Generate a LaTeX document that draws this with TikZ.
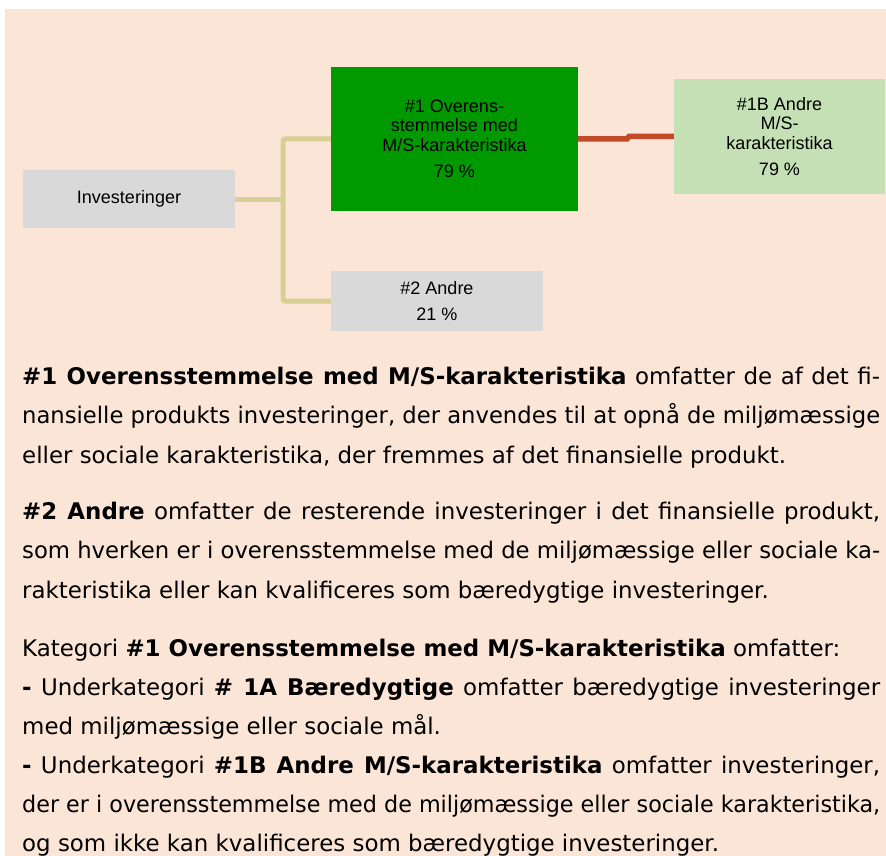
\documentclass[tikz,border=0pt]{standalone}
\usepackage{fontspec}
\usepackage{graphicx}
\setmainfont{DejaVu Sans}
\newfontfamily\arialf{Liberation Sans}
\definecolor{peach}{HTML}{FBE5D6}
\definecolor{greyc}{HTML}{D9D9D9}
\definecolor{greenc}{HTML}{009900}
\definecolor{lgreenc}{HTML}{C5E0B4}
\definecolor{tanc}{HTML}{D8CF94}
\definecolor{redc}{HTML}{C24A28}
\newlength\jlwd
\newcommand\jline[1]{\settowidth\jlwd{#1}\ifdim\jlwd>858pt\resizebox{858pt}{\height}{#1}\else\makebox[858pt][s]{#1}\fi}
\begin{document}
\begin{tikzpicture}[x=1pt,y=-1pt,
  box/.style={inner sep=0pt, align=center, font=\arialf\fontsize{18}{19.5}\selectfont, text=black},
  bodyline/.style={anchor=base west, inner sep=0pt, font=\fontsize{22.9}{26}\selectfont},
  tanline/.style={draw=tanc, line width=5pt, rounded corners=2pt},
  redline/.style={draw=redc, line width=5.5pt}]
\useasboundingbox (0,0) rectangle (886,856);
\fill[peach] (4.5,9.5) rectangle (886,856);

% diagram boxes
\node[box, fill=greyc, minimum width=212pt, minimum height=58pt] (inv) at (129,199) {Investeringer};
\node[box, fill=greenc, minimum width=247pt, minimum height=144pt] (g1) at (454.5,139)
  {\#1 Overens-\\stemmelse med\\M/S-karakteristika\\[7pt]79 \%};
\node[box, fill=lgreenc, minimum width=211pt, minimum height=115pt] (b1) at (779.5,136.5)
  {\#1B Andre\\M/S-\\karakteristika\\[7pt]79 \%};
\node[box, fill=greyc, minimum width=212pt, minimum height=60pt] (a2) at (437,301)
  {\#2 Andre\\[7pt]21 \%};

% connectors
\coordinate (jx) at (283,199);
\draw[tanline] (g1.west) -| (jx) |- (a2.west);
\draw[tanline] (inv.east) -- (jx);
\coordinate (rk) at (627,0);
\draw[redline] (g1.east) -- (rk |- g1.east) -- ([xshift=2pt]rk |- b1.west) -- (b1.west);

% body text
\node[bodyline] (p1a) at (22,384) {\jline{\textbf{\#1 Overensstemmelse med M/S-karakteristika} omfatter de af det fi-}};
\node[bodyline] (p1b) at (22,423.5) {\jline{nansielle produkts investeringer, der anvendes til at opnå de miljømæssige}};
\node[bodyline] (p1c) at (22,463) {eller sociale karakteristika, der fremmes af det finansielle produkt.};
\node[bodyline] (p2a) at (22,519) {\jline{\textbf{\#2 Andre} omfatter de resterende investeringer i det finansielle produkt,}};
\node[bodyline] (p2b) at (22,558.5) {\jline{som hverken er i overensstemmelse med de miljømæssige eller sociale ka-}};
\node[bodyline] (p2c) at (22,598) {rakteristika eller kan kvalificeres som bæredygtige investeringer.};
\node[bodyline] (p3a) at (22,656) {Kategori \textbf{\#1 Overensstemmelse med M/S-karakteristika} omfatter:};
\node[bodyline] (p3b) at (22,695) {\jline{\textbf{-} Underkategori \textbf{\# 1A Bæredygtige} omfatter bæredygtige investeringer}};
\node[bodyline] (p3c) at (22,734) {med miljømæssige eller sociale mål.};
\node[bodyline] (p3d) at (22,773) {\jline{\textbf{-} Underkategori \textbf{\#1B Andre M/S-karakteristika} omfatter investeringer,}};
\node[bodyline] (p3e) at (22,812) {\jline{der er i overensstemmelse med de miljømæssige eller sociale karakteristika,}};
\node[bodyline] (p3f) at (22,851) {og som ikke kan kvalificeres som bæredygtige investeringer.};
\end{tikzpicture}
\end{document}
